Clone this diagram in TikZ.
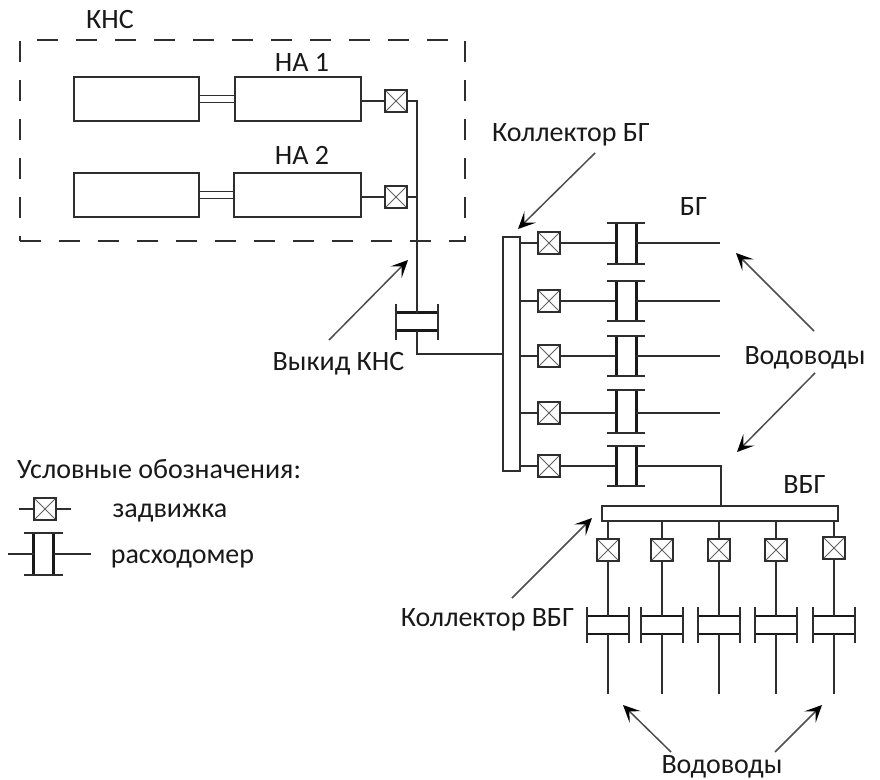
\documentclass[tikz,border=0pt]{standalone}
\usepackage{fontspec}
\setmainfont{Carlito}
\usetikzlibrary{arrows.meta,calc}
\definecolor{ink}{HTML}{2E2E2E}
\tikzset{
  pipe/.style={draw=ink,line width=1.9pt},
  unitbox/.style={draw=ink,line width=1.9pt,fill=white,rectangle,inner sep=0pt,outer sep=0pt},
  gatevalve/.style={draw=ink,line width=2.1pt,fill=white,rectangle,minimum size=22pt,inner sep=0pt,outer sep=0pt,
    path picture={\draw[ink!75,line width=1pt] (path picture bounding box.north west)--(path picture bounding box.south east)
      (path picture bounding box.north east)--(path picture bounding box.south west);}},
  meterbody/.style={rectangle,inner sep=0pt,outer sep=0pt},
  thickbar/.style={draw=black!90,line width=3pt},
  capbar/.style={draw=ink,line width=1.9pt},
  callout/.style={draw=ink!85,line width=1.5pt,-{Stealth[length=17pt,width=16pt,inset=8pt,black]}},
  dashbox/.style={draw=ink,line width=1.8pt,dash pattern=on 21pt off 18pt},
  lbl/.style={font=\fontsize{28}{32}\selectfont,text=black!90,inner sep=0pt,outer sep=0pt}
}
% meter with vertical bars (pipe runs horizontally)
\newcommand{\metV}[5]{% name, x, top, bottom, capwidth extra
  \node[meterbody,minimum width=20pt,minimum height={#4-#3}] (#1) at (#2,{(#3+#4)/2}) {};
  \draw[thickbar] (#1.north west)--(#1.south west) (#1.north east)--(#1.south east);
  \draw[capbar] ([xshift=-#5]#1.north west)--([xshift=#5]#1.north east)
                ([xshift=-#5]#1.south west)--([xshift=#5]#1.south east);}
% meter with horizontal bars (pipe runs vertically)
\newcommand{\metH}[3]{% name, x, y
  \node[meterbody,minimum width=42pt,minimum height=18pt] (#1) at (#2,#3) {};
  \draw[thickbar,line width=2.8pt] (#1.north west)--(#1.north east) (#1.south west)--(#1.south east);
  \draw[capbar] ([yshift=9pt]#1.north west)--([yshift=-9pt]#1.south west)
                ([yshift=9pt]#1.north east)--([yshift=-9pt]#1.south east);}
\begin{document}
\begin{tikzpicture}[x=1pt,y=-1pt]
\useasboundingbox (0,0) rectangle (880,779);
% station frame
\node[rectangle,dashbox,minimum width=445pt,minimum height=201pt,inner sep=0pt,outer sep=0pt] (frame) at (242.5,140.5) {};
\node[lbl] (tkns) at (110,20) {КНС};
\node[lbl] (tna1) at (302,62) {НА 1};
\node[lbl] (tna2) at (302,155) {НА 2};
% pump units
\node[unitbox,minimum width=125pt,minimum height=44pt] (m1) at (136.5,99) {};
\node[unitbox,minimum width=126pt,minimum height=44pt] (p1) at (298,99) {};
\node[unitbox,minimum width=125pt,minimum height=44pt] (m2) at (136.5,195) {};
\node[unitbox,minimum width=127pt,minimum height=44pt] (p2) at (297.5,195) {};
\draw[pipe] ([yshift=3.5pt]m1.east)--([yshift=3.5pt]m1.east -| p1.west)
            ([yshift=-3.5pt]m1.east)--([yshift=-3.5pt]m1.east -| p1.west)
            ([yshift=3.5pt]m2.east)--([yshift=3.5pt]m2.east -| p2.west)
            ([yshift=-3.5pt]m2.east)--([yshift=-3.5pt]m2.east -| p2.west);
\node[gatevalve] (v1) at (396,101) {};
\node[gatevalve] (v2) at (396,197) {};
\metH{mk}{417}{321.5}
\node[unitbox,minimum width=17pt,minimum height=234pt] (cbg) at (511.5,354) {};
\draw[pipe] (p1.east |- v1.west)--(v1.west);
\draw[pipe] (p2.east |- v2.west)--(v2.west);
\draw[pipe] (v1.east)-|(mk.north);
\draw[pipe] (v2.east)-|(mk.north);
\draw[pipe] (mk.south)|-(cbg.west);
% БГ rows
\foreach \n/\y/\t/\b in {1/243/223/264,2/301/281/321,3/356/336/376,4/413/390/433,5/466/446/486}{
  \node[gatevalve] (bv\n) at (549,\y) {};
  \metV{bm\n}{626}{\t}{\b}{9pt}
  \draw[pipe] (bv\n.west)--(bv\n.west -| cbg.east);
  \draw[pipe] (bv\n.east)--(bv\n.east -| bm\n.west);
}
\foreach \n/\y in {1/243,2/301,3/356,4/413}{
  \coordinate (be\n) at (720,\y);
  \draw[pipe] (be\n -| bm\n.east)--(be\n);
}
% ВБГ
\node[unitbox,minimum width=236pt,minimum height=15pt] (cvbg) at (720,513.5) {};
\coordinate (cvtop) at (721,506);
\draw[pipe] (bm5.east |- bv5.east)-|(cvtop);
\foreach \n/\x/\vy in {1/608/550,2/662/550,3/719/550,4/776/550,5/834/548}{
  \node[gatevalve] (vv\n) at (\x,\vy) {};
  \metH{vm\n}{\x}{625}
  \coordinate (ve\n) at (\x,694);
  \draw[pipe] (vv\n.north)--(vv\n.north |- cvbg.south);
  \draw[pipe] (vv\n.south)--(vm\n.north);
  \draw[pipe] (vm\n.south)--(ve\n);
}
% labels
\node[lbl] (tcbg) at (571,135) {Коллектор БГ};
\node[lbl] (tbg) at (693.5,207) {БГ};
\node[lbl] (tvyk) at (338.5,364) {Выкид КНС};
\node[lbl] (tvod) at (805,358) {Водоводы};
\node[lbl] (tvbg) at (804.5,485) {ВБГ};
\node[lbl] (tcvbg) at (487.5,620) {Коллектор ВБГ};
\node[lbl] (tvod2) at (722,767) {Водоводы};
% callouts
\coordinate (a1s) at (595,153); \coordinate (a1e) at (518,229);
\coordinate (a2s) at (329,340); \coordinate (a2e) at (408,260);
\coordinate (a3s) at (814,331); \coordinate (a3e) at (736,253);
\coordinate (a4s) at (815,373); \coordinate (a4e) at (737,452);
\coordinate (a5s) at (512,598); \coordinate (a5e) at (592,518);
\coordinate (a6s) at (671,752); \coordinate (a6e) at (623,705);
\coordinate (a7s) at (775,752); \coordinate (a7e) at (822,705);
\foreach \k in {1,...,7}{\draw[callout] (a\k s)--(a\k e);}
% legend
\node[lbl] (tleg) at (159,469) {Условные обозначения:};
\node[gatevalve] (lv) at (45,509) {};
\coordinate (lv1) at (19,509); \coordinate (lv2) at (71,509);
\draw[pipe] (lv1)--(lv.west) (lv.east)--(lv2);
\node[lbl] (tlv) at (170,513) {задвижка};
\metV{lm}{43.5}{533}{575}{9.5pt}
\coordinate (lm1) at (8,554); \coordinate (lm2) at (91,554);
\draw[pipe] (lm1)--(lm.west) (lm.east)--(lm2);
\node[lbl] (tlm) at (182.5,559) {расходомер};
\end{tikzpicture}
\end{document}
